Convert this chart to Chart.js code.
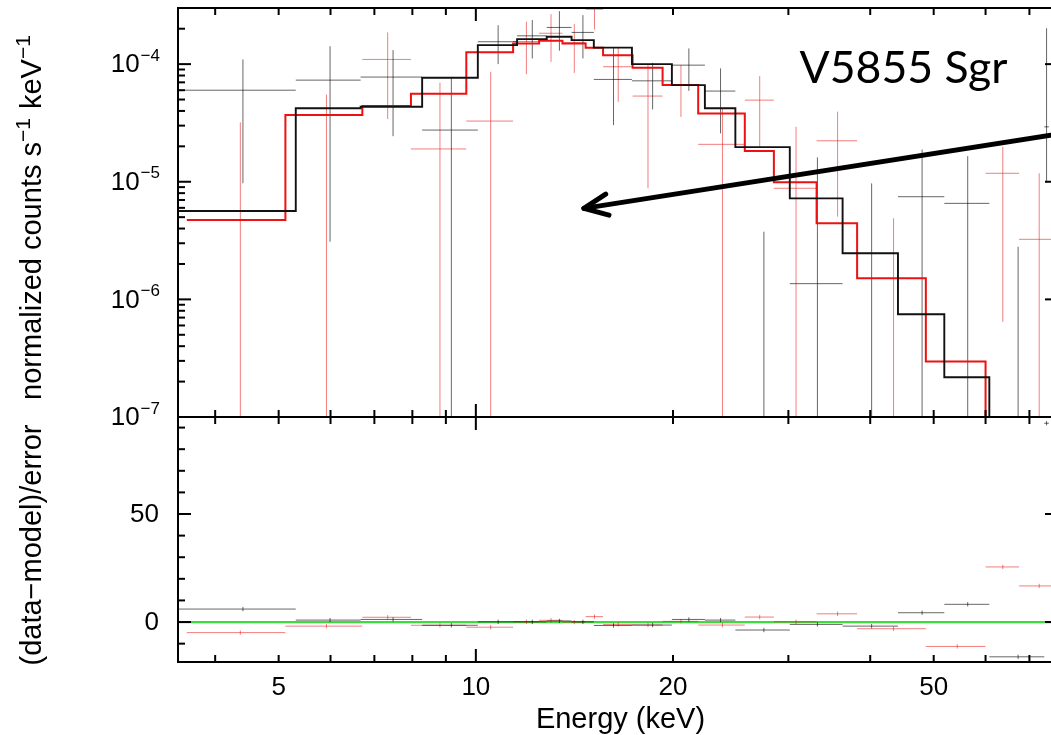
<!DOCTYPE html>
<html>
<head>
<meta charset="utf-8">
<title>V5855 Sgr NuSTAR spectrum</title>
<script src="https://cdn.jsdelivr.net/npm/chart.js@4.4.1/dist/chart.umd.min.js"></script>
<style>
  html, body { margin: 0; padding: 0; background: #fff; overflow: hidden; width: 1051px; height: 735px; }
  canvas { position: absolute; left: 0; top: 0; }
</style>
</head>
<body>
<canvas id="spec" width="1060" height="735"></canvas>
<canvas id="resid" width="1060" height="735"></canvas>
<script>
// ---- FPMA (black): bin edges in keV, folded model, data with errors, residuals ----
const FPMA_EDGES  = [3.51, 5.31, 6.67, 8.28, 10.07, 11.56, 12.83, 14.0, 15.14, 17.31, 19.92, 22.37, 24.9, 30.15, 36.3, 44.1, 51.9, 60.8, 73.75, 74.95];
const FPMA_MODEL  = [5.64e-6, 4.21e-5, 4.34e-5, 7.65e-5, 1.45e-4, 1.63e-4, 1.71e-4, 1.60e-4, 1.38e-4, 1.0e-4, 6.63e-5, 4.21e-5, 1.97e-5, 7.22e-6, 2.47e-6, 7.47e-7, 2.18e-7, 5e-8, 3e-8];
const FPMA_DATA   = [6.0e-5, 7.31e-5, 7.76e-5, 2.75e-5, 1.55e-4, 1.74e-4, 2.05e-4, 1.86e-4, 7.41e-5, 7.21e-5, 9.8e-5, 5.9e-5, null, 1.36e-6, null, 7.46e-6, 6.55e-6, null, 2.93e-5];
const FPMA_ERR_HI = [1.096e-4, 1.42e-4, 1.315e-4, 7.65e-5, 2.14e-4, 2.37e-4, 2.82e-4, 2.61e-4, 1.40e-4, 1.025e-4, 1.36e-4, 9.2e-5, 3.76e-6, 1.61e-5, 9.68e-6, 1.88e-5, 1.65e-5, 2.8e-6, 2.02e-4];
const FPMA_ERR_LO = [9.7e-6, 3.09e-6, 2.44e-5, 0, 1.0e-4, 1.117e-4, 1.30e-4, 1.117e-4, 3.03e-5, 4.12e-5, 5.93e-5, 2.58e-5, 0, 0, 0, 0, 0, 0, 9.8e-6];
const FPMA_RESID  = [6.0, 0.9, 1.2, -1.5, 0.1, 0.1, 0.5, 0.1, -1.6, -1.4, 1.2, 0.9, -3.7, -1.1, -1.9, 4.3, 8.2, -16.1, 92];

// ---- FPMB (red) ----
const FPMB_EDGES  = [3.62, 5.12, 6.71, 7.96, 9.67, 11.40, 12.49, 13.56, 14.71, 15.64, 17.35, 19.28, 21.85, 25.74, 28.51, 33.13, 38.20, 48.64, 60.0, 67.5, 77.4];
const FPMB_MODEL  = [4.73e-6, 3.69e-5, 4.4e-5, 5.6e-5, 1.26e-4, 1.50e-4, 1.58e-4, 1.50e-4, 1.38e-4, 1.19e-4, 9.3e-5, 6.63e-5, 3.81e-5, 1.83e-5, 9.89e-6, 4.43e-6, 1.51e-6, 2.96e-7, 6e-8, 3e-8];
const FPMB_DATA   = [null, null, 1.096e-4, 1.9e-5, 3.28e-5, 1.556e-4, 1.83e-4, 1.52e-4, 2.93e-4, 9.5e-5, 5.35e-5, 6.7e-5, 2.08e-5, 4.94e-5, 8.8e-6, 2.23e-5, null, null, 1.18e-5, 3.24e-6];
const FPMB_ERR_HI = [3.2e-5, 5.52e-5, 1.86e-4, 6.94e-5, 8.6e-5, 2.29e-4, 2.66e-4, 2.19e-4, 3.9e-4, 1.40e-4, 9.8e-5, 9.8e-5, 4.2e-5, 7.9e-5, 2.93e-5, 3.94e-5, 4.89e-6, null, 1.98e-5, 1.18e-5];
const FPMB_ERR_LO = [0, 0, 3.41e-5, 0, 0, 8.22e-5, 1.046e-4, 8.43e-5, 1.97e-4, 4.78e-5, 8.8e-6, 3.56e-5, 0, 1.98e-5, 0, 5.05e-6, 0, null, 6.45e-7, 0];
const FPMB_RESID  = [-4.9, -1.9, 2.2, -1.5, -2.4, 0.1, 0.8, 0.0, 2.5, -1.1, -1.4, 0.3, -1.4, 2.3, 0.1, 3.8, -3.1, -11.3, 25.5, 16.7];

// residuals are in units of sigma, so each has a +/-1 bar
const RESID_SIGMA = 1;

// ---- axes ----
const ENERGY_RANGE = [3.51, 77.4];
const FLUX_RANGE = [1e-7, 3e-4];
const RESID_RANGE = [-18.5, 94.9];
const X_TICK_LABELS = [5, 10, 20, 50];
const X_MAJOR_TICKS = [10];
const X_MINOR_TICKS = [4, 5, 6, 7, 8, 9, 20, 30, 40, 50, 60, 70];
const Y_DECADE_EXPONENTS = [-7, -6, -5, -4];
const RESID_TICK_LABELS = [0, 50];
const RESID_MINOR_TICKS = [-10, 10, 20, 30, 40, 60, 70, 80, 90];

// annotation
const SOURCE_NAME = 'V5855 Sgr';
const NAME_ANCHOR = [31.2, 6.86e-5];        // keV, counts  (left end of baseline)
const ARROW_TIP = [14.62, 5.94e-6];
const ARROW_TAIL = [80.8, 2.64e-5];

// ---- frame geometry (pixels) ----
const W = 1060, H = 735;
const FRAME = { left: 178, right: 1058, top: 8, mid: 417, bottom: 662 };
const FONT = '"Liberation Sans", Arial, Helvetica, sans-serif';
const TICK_FONT = 26, SUP_FONT = 17, TITLE_FONT = 29, TITLE_SUP_FONT = 21;
const MAJOR_LEN = 13, MINOR_LEN = 7;
const LABEL_RIGHT = 159;

const BLACK_DATA = 'rgba(0,0,0,0.6)';
const RED_DATA = 'rgba(230,20,20,0.55)';

function stepPoints(edges, vals) {
  const pts = vals.map((v, i) => ({ x: edges[i], y: v }));
  pts.push({ x: edges[edges.length - 1], y: vals[vals.length - 1] });
  return pts;
}

// horizontal bar across each bin plus a vertical error bar at the bin centre,
// separated by null points so every piece is its own segment
function crossPoints(edges, vals, hi, lo, floor) {
  const pts = [];
  for (let i = 0; i < edges.length - 1; i++) {
    const a = edges[i], b = edges[i + 1], c = (a + b) / 2;
    if (vals[i] !== null) pts.push({ x: a, y: vals[i] }, { x: b, y: vals[i] }, { x: c, y: null });
    if (hi[i] !== null && lo[i] !== null) pts.push({ x: c, y: Math.max(lo[i], floor) }, { x: c, y: hi[i] }, { x: c, y: null });
  }
  return pts;
}

function line(ctx, x1, y1, x2, y2) {
  ctx.beginPath(); ctx.moveTo(x1, y1); ctx.lineTo(x2, y2); ctx.stroke();
}

function frameAndXTicks(ctx, a, x) {
  ctx.strokeStyle = '#000';
  ctx.lineWidth = 2;
  ctx.strokeRect(a.left, a.top, a.right - a.left, a.bottom - a.top);
  for (const v of X_MAJOR_TICKS) {
    const px = x.getPixelForValue(v);
    line(ctx, px, a.top, px, a.top + MAJOR_LEN);
    line(ctx, px, a.bottom, px, a.bottom - MAJOR_LEN);
  }
  for (const v of X_MINOR_TICKS) {
    const px = x.getPixelForValue(v);
    line(ctx, px, a.top, px, a.top + MINOR_LEN);
    line(ctx, px, a.bottom, px, a.bottom - MINOR_LEN);
  }
}

function yTick(ctx, a, py, len) {
  line(ctx, a.left, py, a.left + len, py);
  line(ctx, a.right, py, a.right - len, py);
}

// draws text pieces, superscript pieces raised and smaller; x0 is the left end
function drawPieces(ctx, pieces, x0, y0) {
  let xx = x0;
  for (const [txt, sup] of pieces) {
    ctx.font = (sup ? TITLE_SUP_FONT : TITLE_FONT) + 'px ' + FONT;
    ctx.fillText(txt, xx, sup ? y0 - 9 : y0);
    xx += ctx.measureText(txt).width + (sup ? 1 : 0);
  }
}
function piecesWidth(ctx, pieces) {
  let w = 0;
  for (const [txt, sup] of pieces) {
    ctx.font = (sup ? TITLE_SUP_FONT : TITLE_FONT) + 'px ' + FONT;
    w += ctx.measureText(txt).width + (sup ? 1 : 0);
  }
  return w;
}
function rotatedTitle(ctx, pieces, cx, cy) {
  ctx.save();
  ctx.translate(cx, cy);
  ctx.rotate(-Math.PI / 2);
  ctx.textBaseline = 'middle';
  ctx.textAlign = 'left';
  drawPieces(ctx, pieces, -piecesWidth(ctx, pieces) / 2, 0);
  ctx.restore();
}

const spectrumAxes = {
  id: 'spectrumAxes',
  afterDraw(chart) {
    const { ctx, chartArea: a, scales: { x, y } } = chart;
    ctx.save();
    frameAndXTicks(ctx, a, x);
    for (const e of Y_DECADE_EXPONENTS) {
      yTick(ctx, a, y.getPixelForValue(Math.pow(10, e)), MAJOR_LEN);
      for (let k = 2; k <= 9; k++) {
        const v = k * Math.pow(10, e);
        if (v <= FLUX_RANGE[1]) yTick(ctx, a, y.getPixelForValue(v), MINOR_LEN);
      }
    }
    // 10^n labels
    ctx.fillStyle = '#000';
    ctx.textBaseline = 'middle';
    ctx.textAlign = 'left';
    for (const e of Y_DECADE_EXPONENTS) {
      const py = y.getPixelForValue(Math.pow(10, e));
      const sup = '\u2212' + Math.abs(e);
      ctx.font = SUP_FONT + 'px ' + FONT;
      const ws = ctx.measureText(sup).width;
      ctx.font = TICK_FONT + 'px ' + FONT;
      const wb = ctx.measureText('10').width;
      const x0 = LABEL_RIGHT - ws - wb;
      ctx.fillText('10', x0, py + 1);
      ctx.font = SUP_FONT + 'px ' + FONT;
      ctx.fillText(sup, x0 + wb + 1, py - 8);
    }
    rotatedTitle(ctx, [['normalized counts s', false], ['\u22121', true], [' keV', false], ['\u22121', true]], 33, 217);

    // source name and pointer arrow
    ctx.font = '100px Lato, "Open Sans", sans-serif';
    const size = 100 * 208 / ctx.measureText(SOURCE_NAME).width;
    ctx.font = size.toFixed(1) + 'px Lato, "Open Sans", sans-serif';
    ctx.textBaseline = 'alphabetic';
    ctx.fillText(SOURCE_NAME, x.getPixelForValue(NAME_ANCHOR[0]), y.getPixelForValue(NAME_ANCHOR[1]));

    const tx = x.getPixelForValue(ARROW_TIP[0]), ty = y.getPixelForValue(ARROW_TIP[1]);
    const sx = x.getPixelForValue(ARROW_TAIL[0]), sy = y.getPixelForValue(ARROW_TAIL[1]);
    ctx.strokeStyle = '#000';
    ctx.lineWidth = 5;
    ctx.lineCap = 'round';
    ctx.lineJoin = 'round';
    line(ctx, sx, sy, tx, ty);
    const ang = Math.atan2(sy - ty, sx - tx);
    ctx.beginPath();
    ctx.moveTo(tx + 26 * Math.cos(ang - 0.42), ty + 26 * Math.sin(ang - 0.42));
    ctx.lineTo(tx, ty);
    ctx.lineTo(tx + 26 * Math.cos(ang + 0.42), ty + 26 * Math.sin(ang + 0.42));
    ctx.stroke();
    ctx.restore();
  }
};

const residualAxes = {
  id: 'residualAxes',
  afterDraw(chart) {
    const { ctx, chartArea: a, scales: { x, y } } = chart;
    ctx.save();
    frameAndXTicks(ctx, a, x);
    for (const v of RESID_TICK_LABELS) yTick(ctx, a, y.getPixelForValue(v), MAJOR_LEN);
    for (const v of RESID_MINOR_TICKS) yTick(ctx, a, y.getPixelForValue(v), MINOR_LEN);
    ctx.fillStyle = '#000';
    ctx.font = TICK_FONT + 'px ' + FONT;
    ctx.textBaseline = 'middle';
    ctx.textAlign = 'right';
    for (const v of RESID_TICK_LABELS) ctx.fillText(String(v), LABEL_RIGHT, y.getPixelForValue(v) + 1);
    ctx.textAlign = 'center';
    for (const v of X_TICK_LABELS) ctx.fillText(String(v), x.getPixelForValue(v), 688);
    ctx.font = TITLE_FONT + 'px ' + FONT;
    ctx.fillText('Energy (keV)', (a.left + 1051) / 2 + 6, 720);
    rotatedTitle(ctx, [['(data\u2212model)/error', false]], 33, 545);
    ctx.restore();
  }
};

const baseOptions = (padding, yScale) => ({
  responsive: false,
  animation: false,
  devicePixelRatio: 1,
  layout: { padding },
  scales: {
    x: { type: 'logarithmic', min: ENERGY_RANGE[0], max: ENERGY_RANGE[1], display: false },
    y: yScale
  },
  plugins: { legend: { display: false }, tooltip: { enabled: false } },
  elements: { point: { radius: 0 }, line: { tension: 0 } }
});

new Chart(document.getElementById('spec'), {
  type: 'line',
  data: {
    datasets: [
      { label: 'FPMA model', data: stepPoints(FPMA_EDGES, FPMA_MODEL), stepped: true, borderColor: '#111', borderWidth: 1.9 },
      { label: 'FPMB model', data: stepPoints(FPMB_EDGES, FPMB_MODEL), stepped: true, borderColor: '#ee1111', borderWidth: 2 },
      { label: 'FPMA data', data: crossPoints(FPMA_EDGES, FPMA_DATA, FPMA_ERR_HI, FPMA_ERR_LO, FLUX_RANGE[0]), borderColor: BLACK_DATA, borderWidth: 1 },
      { label: 'FPMB data', data: crossPoints(FPMB_EDGES, FPMB_DATA, FPMB_ERR_HI, FPMB_ERR_LO, FLUX_RANGE[0]), borderColor: RED_DATA, borderWidth: 1 }
    ]
  },
  options: baseOptions(
    { left: FRAME.left, right: W - FRAME.right, top: FRAME.top, bottom: H - FRAME.mid },
    { type: 'logarithmic', min: FLUX_RANGE[0], max: FLUX_RANGE[1], display: false }
  ),
  plugins: [spectrumAxes]
});

const residBars = (resid) => resid.map(r => r + RESID_SIGMA);
const residLows = (resid) => resid.map(r => r - RESID_SIGMA);

new Chart(document.getElementById('resid'), {
  type: 'line',
  data: {
    datasets: [
      { label: 'FPMA residuals', data: crossPoints(FPMA_EDGES, FPMA_RESID, residBars(FPMA_RESID), residLows(FPMA_RESID), -Infinity), borderColor: BLACK_DATA, borderWidth: 1 },
      { label: 'FPMB residuals', data: crossPoints(FPMB_EDGES, FPMB_RESID, residBars(FPMB_RESID), residLows(FPMB_RESID), -Infinity), borderColor: RED_DATA, borderWidth: 1 },
      { label: 'zero', data: [{ x: ENERGY_RANGE[0], y: 0 }, { x: ENERGY_RANGE[1], y: 0 }], borderColor: '#3ddc3d', borderWidth: 2.2 }
    ]
  },
  options: baseOptions(
    { left: FRAME.left, right: W - FRAME.right, top: FRAME.mid, bottom: H - FRAME.bottom },
    { type: 'linear', min: RESID_RANGE[0], max: RESID_RANGE[1], display: false }
  ),
  plugins: [residualAxes]
});
</script>
</body>
</html>
